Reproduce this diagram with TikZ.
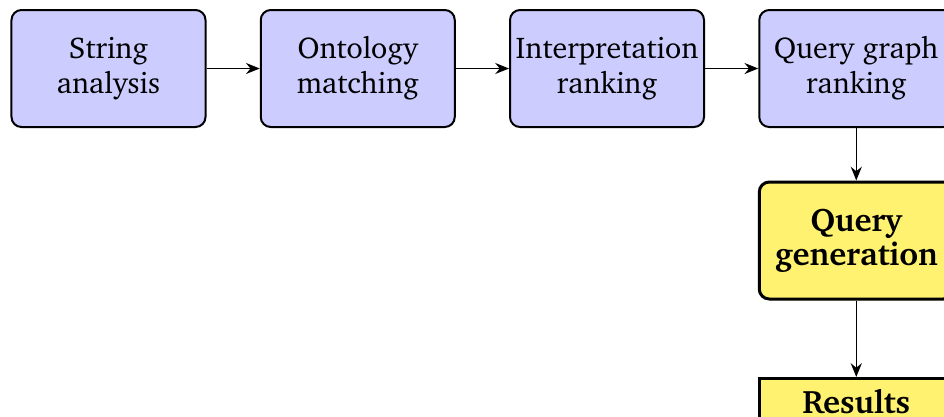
\documentclass[tikz,border=0pt]{standalone}
\usepackage[T1]{fontenc}
\usepackage{charter}
\usetikzlibrary{positioning,arrows.meta}

\definecolor{stepblue}{RGB}{204,204,255}
\definecolor{stepyellow}{RGB}{255,242,112}

\tikzset{
    stepbox/.style={draw, fill=stepblue, line width=0.8pt, rounded corners=4pt,
        minimum width=77.6pt, minimum height=46.8pt, inner xsep=1pt,
        align=center, font=\large},
    genbox/.style={stepbox, fill=stepyellow, line width=1.2pt,
        font=\fontsize{13}{13.6}\selectfont\bfseries},
    resbox/.style={genbox, rounded corners=0pt, minimum height=18pt},
    flow/.style={-{Stealth[length=5.5pt,width=4.4pt]}, line width=0.6pt}
}

\begin{document}
\begin{tikzpicture}[x=0.4pt, y=-0.4pt]
    \clip (0,0) rectangle (944,416);

    \node[stepbox] (strana) at (108.5,68.5) {String\\analysis};
    \node[stepbox, right=21.3pt of strana] (ontmatch) {Ontology\\matching};
    \node[stepbox, right=21.3pt of ontmatch] (interrank) {Interpretation\\ranking};
    \node[stepbox, right=21.3pt of interrank] (qgraphrank) {Query graph\\ranking};
    \node[genbox, below=21pt of qgraphrank] (qgen) {Query\\generation};
    \node[resbox, below=30.6pt of qgen] (results) {Results};

    \draw[flow] (strana) -- (ontmatch);
    \draw[flow] (ontmatch) -- (interrank);
    \draw[flow] (interrank) -- (qgraphrank);
    \draw[flow] (qgraphrank) -- (qgen);
    \draw[flow] (qgen) -- (results);
\end{tikzpicture}
\end{document}
